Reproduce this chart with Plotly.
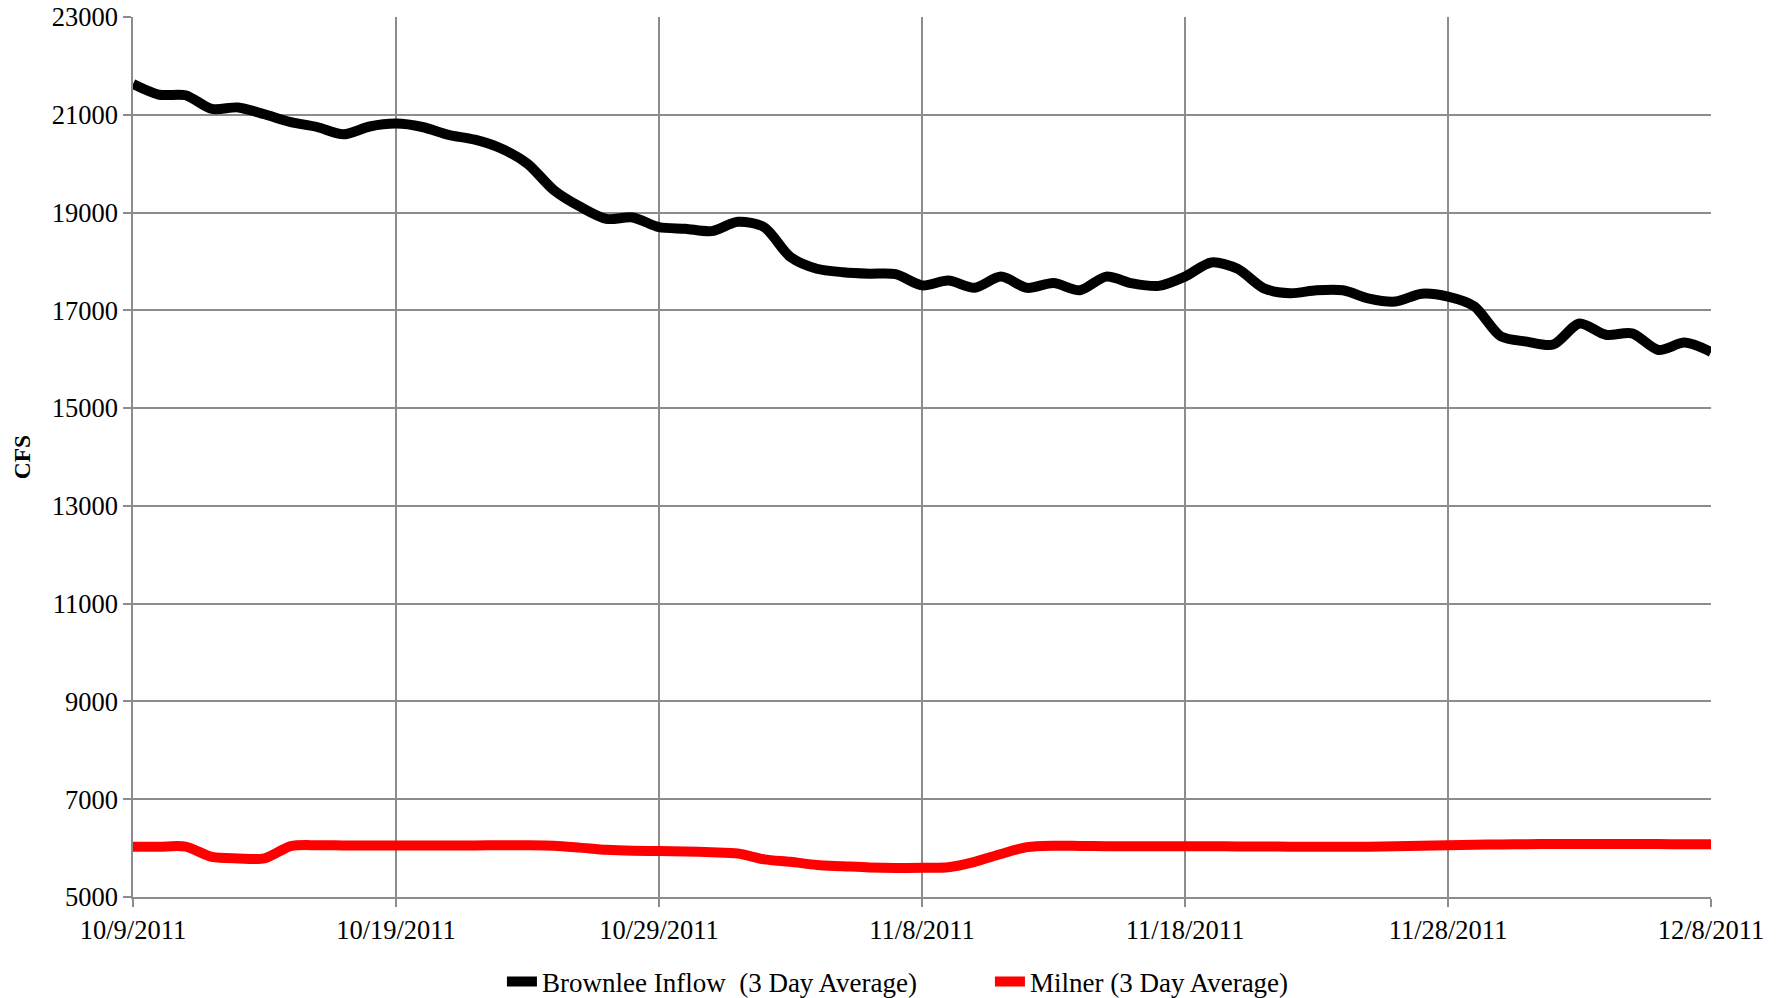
import pandas as pd
import plotly.graph_objects as go

dates = pd.date_range("2011-10-09", "2011-12-08", freq="D")

brownlee = [21630, 21410, 21400, 21120, 21150, 21010, 20850, 20750, 20600, 20760,
            20820, 20750, 20590, 20490, 20310, 20000, 19460, 19120, 18870, 18900,
            18700, 18670, 18620, 18810, 18700, 18090, 17850, 17780, 17750, 17740,
            17510, 17610, 17460, 17690, 17460, 17560, 17410, 17690, 17550, 17500,
            17690, 17980, 17850, 17450, 17350, 17410, 17410, 17240, 17180, 17340,
            17280, 17080, 16470, 16360, 16300, 16730, 16500, 16530, 16190, 16340,
            16150]

milner = [6030, 6030, 6030, 5820, 5790, 5790, 6040, 6060, 6055, 6055,
          6055, 6055, 6055, 6055, 6060, 6060, 6050, 6010, 5965, 5945,
          5940, 5930, 5915, 5890, 5770, 5720, 5655, 5630, 5605, 5595,
          5600, 5610, 5720, 5880, 6020, 6050, 6045, 6040, 6040, 6040,
          6040, 6040, 6035, 6035, 6030, 6030, 6030, 6030, 6040, 6050,
          6060, 6070, 6075, 6080, 6085, 6085, 6085, 6085, 6082, 6080,
          6080]

tick_dates = ["2011-10-09", "2011-10-19", "2011-10-29", "2011-11-08",
              "2011-11-18", "2011-11-28", "2011-12-08"]
tick_labels = ["10/9/2011", "10/19/2011", "10/29/2011", "11/8/2011",
               "11/18/2011", "11/28/2011", "12/8/2011"]
y_ticks = list(range(5000, 23001, 2000))

FONT = "Liberation Serif, Times New Roman, serif"
GRID = "#8c8c8c"
FS = 26.5

fig = go.Figure()
fig.add_trace(go.Scatter(x=dates, y=brownlee, mode="lines",
                         name="Brownlee Inflow  (3 Day Average)",
                         line=dict(color="#000000", width=10, shape="spline", smoothing=0.8)))
fig.add_trace(go.Scatter(x=dates, y=milner, mode="lines",
                         name="Milner (3 Day Average)",
                         line=dict(color="#ff0000", width=10, shape="spline", smoothing=0.8)))

fig.update_layout(
    width=1783, height=998,
    margin=dict(l=133, r=72, t=17, b=101, autoexpand=False),
    paper_bgcolor="white", plot_bgcolor="white",
    font=dict(family=FONT, size=FS, color="black"),
    showlegend=True,
    legend=dict(orientation="h", x=0.2338, xanchor="left", y=-0.0966, yanchor="middle",
                font=dict(family=FONT, size=27, color="black"),
                entrywidth=443, entrywidthmode="pixels",
                itemwidth=30, tracegroupgap=0, traceorder="normal"),
)
fig.update_xaxes(
    type="date", range=["2011-10-09", "2011-12-08"],
    tickmode="array", tickvals=tick_dates, ticktext=tick_labels,
    showgrid=True, gridcolor=GRID, gridwidth=1.5,
    showline=True, linecolor=GRID, linewidth=1.5,
    ticks="outside", ticklen=8, tickcolor=GRID, tickwidth=1.5,
    tickfont=dict(family=FONT, size=FS, color="black"),
    zeroline=False, mirror=False, automargin=False,
)
fig.update_yaxes(
    range=[5000, 23000], tickmode="array", tickvals=y_ticks,
    ticktext=[str(v) for v in y_ticks],
    showgrid=True, gridcolor=GRID, gridwidth=1.5,
    showline=True, linecolor=GRID, linewidth=1.5,
    ticks="outside", ticklen=8, tickcolor=GRID, tickwidth=1.5,
    tickfont=dict(family=FONT, size=FS, color="black"),
    title=dict(text="<b>CFS</b>", font=dict(family=FONT, size=23.5, color="black"), standoff=14),
    zeroline=False, automargin=False,
)

fig.write_html("out.html",
               config={"displayModeBar": False},
               post_script="document.body.style.margin='0';document.body.style.overflow='hidden';")
